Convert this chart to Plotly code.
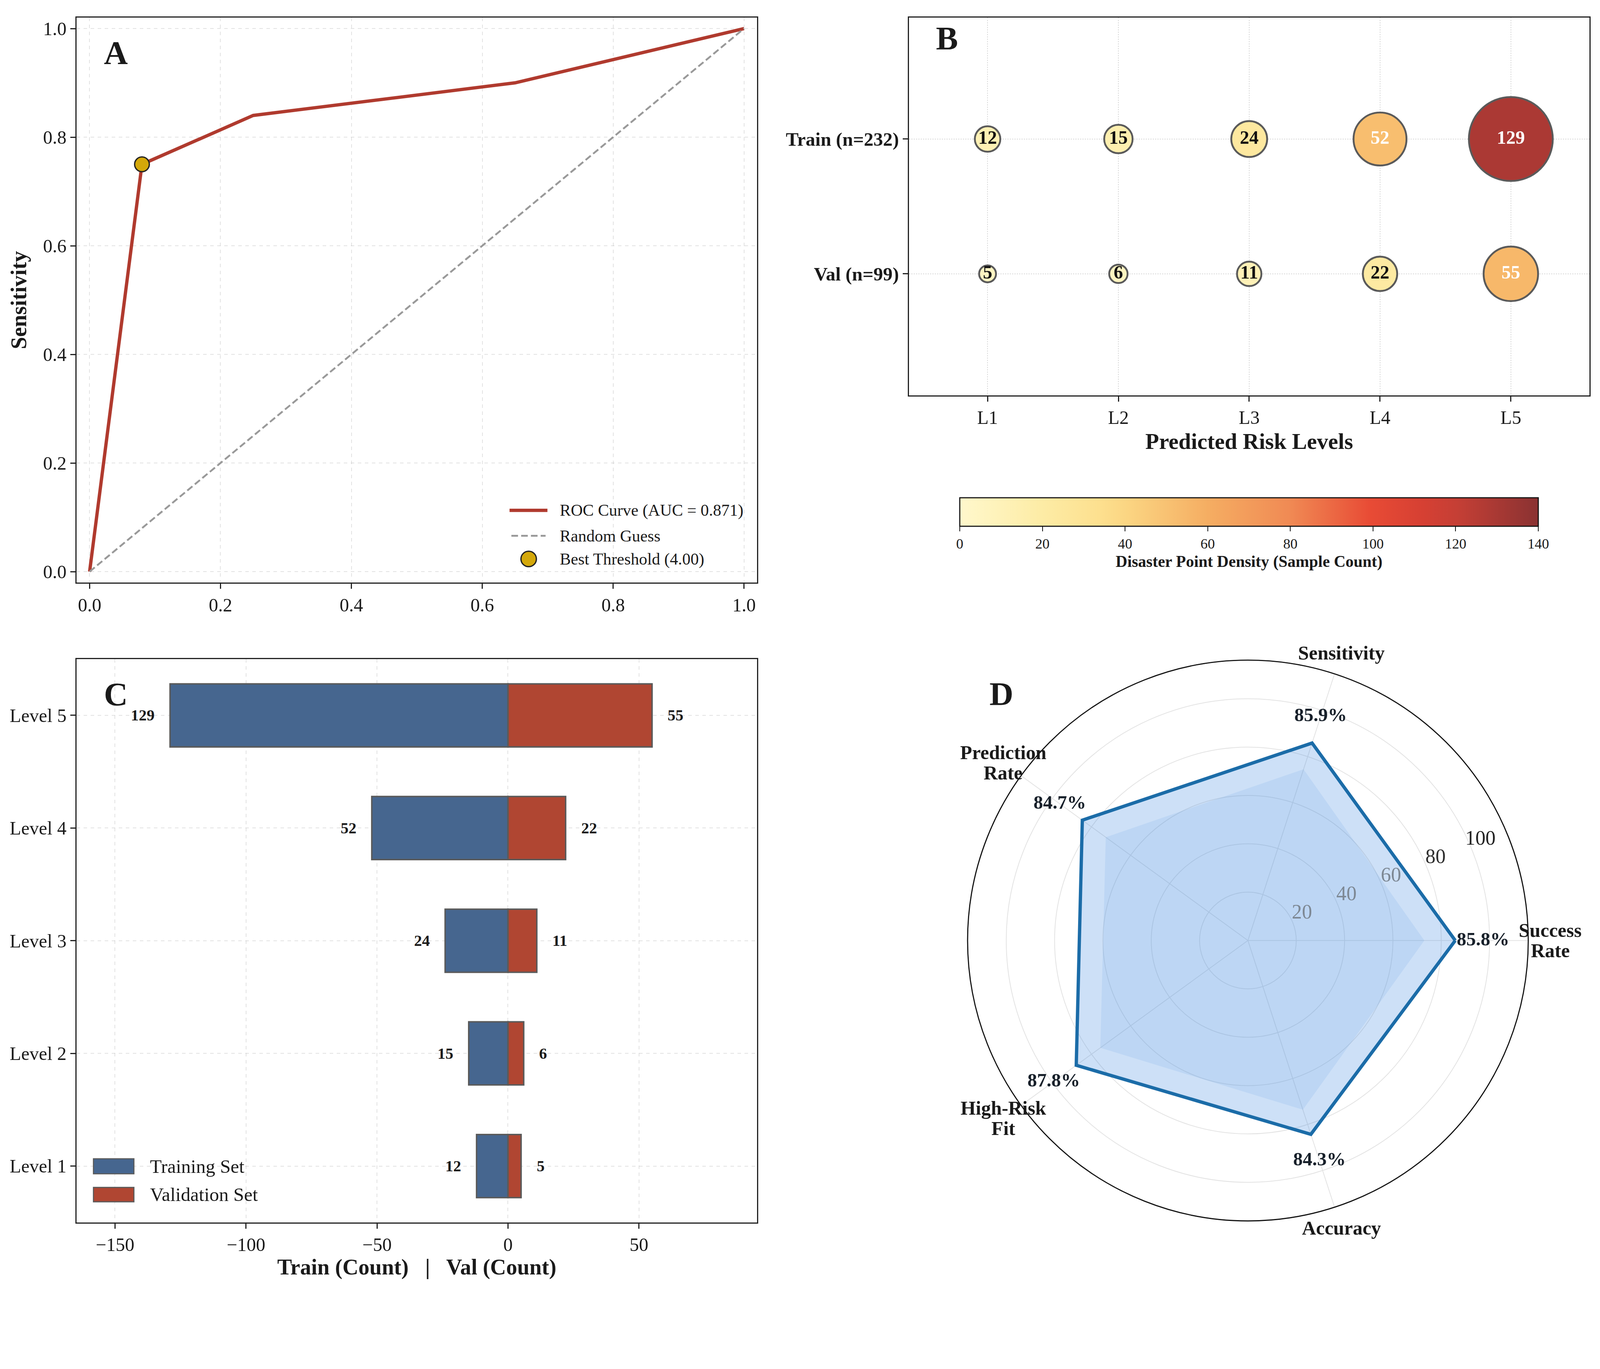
import numpy as np
import plotly.graph_objects as go

FONT = "Liberation Serif"
INK = "#1a1a1a"

# ---- panel A: ROC curve ----
roc_fpr = [0.0, 0.08, 0.25, 0.65, 1.0]
roc_tpr = [0.0, 0.75, 0.84, 0.90, 1.0]
best_fpr = [0.08]
best_tpr = [0.75]
auc_value = 0.871
best_threshold = 4.00

# ---- panel B / C: counts per predicted risk level ----
risk_levels = ["L1", "L2", "L3", "L4", "L5"]
level_names = ["Level 1", "Level 2", "Level 3", "Level 4", "Level 5"]
train_counts = [12, 15, 24, 52, 129]
val_counts = [5, 6, 11, 22, 55]
set_names = ["Val (n=99)", "Train (n=232)"]

# ---- panel D: performance radar ----
metrics = ["Success<br>Rate", "Sensitivity", "Prediction<br>Rate", "High-Risk<br>Fit", "Accuracy"]
metric_values = [85.8, 85.9, 84.7, 87.8, 84.3]
inner_values = [73.0, 74.5, 72.7, 75.5, 73.6]
radial_ticks = [20, 40, 60, 80, 100]

density_scale = [
    [0.00, "#fff8cc"], [0.14, "#fdeca6"], [0.24, "#fde08f"], [0.29, "#fbd582"],
    [0.43, "#f5ad62"], [0.57, "#f08a54"], [0.71, "#e84b35"], [0.80, "#d64033"],
    [0.86, "#c53f35"], [1.00, "#8a3232"],
]

# page geometry: the visible viewport is ~4096 css px wide, body has an 8px margin
S = 4096 / 4349
W, H = 4080, 3280


def p(v):
    return v * S


def fx(X):
    return (X * S - 8) / W


def fy(Y):
    return 1 - (Y * S - 8) / H


def font(size, bold=False, color=INK):
    return dict(family=FONT, size=p(size), color=color, weight="bold" if bold else "normal")


fig = go.Figure()

# A
fig.add_trace(go.Scatter(
    x=roc_fpr, y=roc_tpr, mode="lines", xaxis="x", yaxis="y", showlegend=False,
    line=dict(color="#b03a2e", width=p(9)),
))
fig.add_trace(go.Scatter(
    x=[0, 1], y=[0, 1], mode="lines", xaxis="x", yaxis="y", showlegend=False,
    line=dict(color="#999999", width=p(5), dash="17px,8px"),
))
fig.add_trace(go.Scatter(
    x=best_fpr, y=best_tpr, mode="markers", xaxis="x", yaxis="y", showlegend=False,
    marker=dict(size=p(40), color="#d4a80a", line=dict(color="#222222", width=p(3.5))),
))

# B
for name, counts in [("Train (n=232)", train_counts), ("Val (n=99)", val_counts)]:
    counts = np.array(counts)
    diam = p(np.sqrt(417 * counts + 516) - 5)
    fig.add_trace(go.Scatter(
        x=risk_levels, y=[name] * len(counts), mode="markers+text",
        xaxis="x2", yaxis="y2", showlegend=False,
        text=[str(c) for c in counts], textposition="middle center",
        textfont=dict(family=FONT, size=p(51), weight="bold",
                      color=["white" if c > 50 else "#111111" for c in counts]),
        marker=dict(
            size=diam, color=counts, colorscale=density_scale, cmin=0, cmax=140,
            line=dict(color="#5a5a5a", width=p(5)), opacity=1,
            showscale=(name == "Train (n=232)"),
            colorbar=dict(
                orientation="h", x=fx(3395), xanchor="center", y=fy(1353), yanchor="top",
                len=p(1572) / W, lenmode="fraction", thickness=p(77), thicknessmode="pixels",
                outlinecolor="#111111", outlinewidth=p(3),
                tickvals=list(range(0, 141, 20)), ticks="outside", ticklen=p(13),
                tickwidth=p(2.5), tickcolor="#111111", tickfont=font(39),
                title=dict(text="Disaster Point Density (Sample Count)", side="bottom",
                           font=font(44, True)),
                xpad=0, ypad=0,
            ),
        ),
    ))

# C
fig.add_trace(go.Bar(
    y=level_names, x=[-c for c in train_counts], orientation="h", width=0.56,
    xaxis="x3", yaxis="y3", showlegend=False,
    marker=dict(color="#46668f", line=dict(color="#5a5a5a", width=p(4))),
))
fig.add_trace(go.Bar(
    y=level_names, x=val_counts, orientation="h", width=0.56,
    xaxis="x3", yaxis="y3", showlegend=False,
    marker=dict(color="#b04632", line=dict(color="#5a5a5a", width=p(4))),
))

# D
fig.add_trace(go.Scatterpolar(
    r=inner_values + inner_values[:1], theta=metrics + metrics[:1],
    mode="none", fill="toself", fillcolor="rgba(74,144,226,0.12)",
    showlegend=False, hoverinfo="skip",
))
fig.add_trace(go.Scatterpolar(
    r=metric_values + metric_values[:1], theta=metrics + metrics[:1],
    mode="lines", fill="toself", fillcolor="rgba(74,144,226,0.28)",
    line=dict(color="#1b6ca8", width=p(9)), showlegend=False,
))
fig.add_trace(go.Scatterpolar(
    r=[v + 11.5 for v in metric_values], theta=metrics, mode="text",
    text=[f"{v:.1f}%" for v in metric_values],
    textfont=dict(family=FONT, size=p(52), weight="bold", color="#17202a"),
    showlegend=False, cliponaxis=False,
))

axis_common = dict(
    showline=True, mirror=True, linecolor="#222222", linewidth=p(3),
    ticks="outside", ticklen=p(14), tickwidth=p(3), tickcolor="#222222",
    tickfont=font(51), zeroline=False,
)
dash_grid = dict(showgrid=True, gridcolor="rgba(190,190,190,0.45)", gridwidth=p(2), griddash="dash")
dot_grid = dict(showgrid=True, gridcolor="rgba(190,190,190,0.6)", gridwidth=p(2.5), griddash="dot")

R_MAX = 116
fig.update_layout(
    width=W, height=H,
    margin=dict(l=0, r=0, t=0, b=0),
    paper_bgcolor="white", plot_bgcolor="white",
    font=dict(family=FONT, color=INK),
    barmode="overlay", showlegend=False,
    xaxis=dict(domain=[fx(208), fx(2058)], anchor="y", range=[-0.02, 1.02],
               tickvals=[0, 0.2, 0.4, 0.6, 0.8, 1.0], tickformat=".1f",
               **axis_common, **dash_grid),
    yaxis=dict(domain=[fy(1583), fy(48)], anchor="x", range=[-0.02, 1.02],
               tickvals=[0, 0.2, 0.4, 0.6, 0.8, 1.0], tickformat=".1f",
               title=dict(text="Sensitivity", font=font(60, True), standoff=p(26)),
               **axis_common, **dash_grid),
    xaxis2=dict(domain=[fx(2471), fx(4320)], anchor="y2", range=[-0.6, 4.6],
                title=dict(text="Predicted Risk Levels", font=font(61, True), standoff=p(16)),
                layer="above traces", **axis_common, **dot_grid),
    yaxis2=dict(domain=[fy(1074), fy(48)], anchor="x2", range=[-0.9, 1.9],
                categoryorder="array", categoryarray=set_names,
                layer="above traces", **dot_grid,
                **{**axis_common, "tickfont": font(52, True)}),
    xaxis3=dict(domain=[fx(208), fx(2058)], anchor="y3", range=[-164.7, 95.1],
                tickvals=[-150, -100, -50, 0, 50],
                title=dict(text="Train (Count)   |   Val (Count)", font=font(60, True), standoff=p(10)),
                layer="above traces", **axis_common, **dash_grid),
    yaxis3=dict(domain=[fy(3322), fy(1791)], anchor="x3", range=[-0.5, 4.5],
                categoryorder="array", categoryarray=level_names,
                layer="above traces", **axis_common, **dash_grid),
    polar=dict(
        domain=dict(x=[fx(2630), fx(4154)], y=[fy(3318), fy(1794)]),
        bgcolor="white",
        radialaxis=dict(range=[0, R_MAX], tickvals=radial_ticks, showticklabels=False,
                        showline=False, ticks="", gridcolor="#e3e3e3", gridwidth=p(2.5)),
        angularaxis=dict(rotation=0, direction="counterclockwise", ticks="",
                         showticklabels=False,
                         showline=True, linecolor="#111111", linewidth=p(3),
                         gridcolor="#e3e3e3", gridwidth=p(2.5)),
    ),
)

# radar geometry in reference pixels (centre and outer radius of the polar disc)
CX, CY, R_PX = 3392, 2556, 762
unit = R_PX / R_MAX

# radial tick labels, set along the 22.5 degree ray
ray = np.deg2rad(22.5)
tick_colors = ["#7d8894", "#7d8894", "#7d8894", "#2e2e2e", "#222222"]
for t, c in zip(radial_ticks, tick_colors):
    X = CX + t * unit * np.cos(ray) + 25
    Y = CY - t * unit * np.sin(ray) - 28
    fig.add_annotation(x=fx(X), y=fy(Y), xref="paper", yref="paper", text=str(t),
                       showarrow=False, xanchor="center", yanchor="middle", font=font(55, color=c))

# category labels just outside the outer circle (one annotation per text line)
LINE_GAP = 55
for i, label in enumerate(metrics):
    a = np.deg2rad(360 * i / len(metrics))
    X = CX + 822 * np.cos(a)
    Y = CY - 822 * np.sin(a)
    lines = label.split("<br>")
    for k, line in enumerate(lines):
        dy = (k - (len(lines) - 1) / 2) * LINE_GAP
        fig.add_annotation(x=fx(X), y=fy(Y + dy), xref="paper", yref="paper", text=line,
                           showarrow=False, xanchor="center", yanchor="middle", font=font(53, True))

# legend of panel A, drawn by hand so the samples keep their size
fig.add_shape(type="line", xref="paper", yref="paper", x0=fx(1385), x1=fx(1488),
              y0=fy(1387), y1=fy(1387), line=dict(color="#b03a2e", width=p(9)))
fig.add_shape(type="line", xref="paper", yref="paper", x0=fx(1390), x1=fx(1483),
              y0=fy(1456), y1=fy(1456), line=dict(color="#999999", width=p(5), dash="17px,8px"))
fig.add_shape(type="circle", xref="paper", yref="paper", xsizemode="pixel", ysizemode="pixel",
              xanchor=fx(1437), yanchor=fy(1519), x0=-p(21), x1=p(21), y0=-p(21), y1=p(21),
              fillcolor="#d4a80a", line=dict(color="#222222", width=p(3.5)))
legend_a = [f"ROC Curve (AUC = {auc_value:.3f})", "Random Guess", f"Best Threshold ({best_threshold:.2f})"]
for label, row in zip(legend_a, [1387, 1456, 1519]):
    fig.add_annotation(x=fx(1519), y=fy(row), xref="paper", yref="paper", text=label,
                       showarrow=False, xanchor="left", yanchor="middle", font=font(45))

# legend of panel C
for label, color, (top, bot) in [("Training Set", "#46668f", (3149, 3190)),
                                 ("Validation Set", "#b04632", (3227, 3266))]:
    fig.add_shape(type="rect", xref="paper", yref="paper", x0=fx(254), x1=fx(364),
                  y0=fy(bot), y1=fy(top), fillcolor=color, line=dict(color="#5a5a5a", width=p(3)))
    fig.add_annotation(x=fx(406), y=fy((top + bot) / 2), xref="paper", yref="paper", text=label,
                       showarrow=False, xanchor="left", yanchor="middle", font=font(52))

# value labels on the diverging bars
for name, t, v in zip(level_names, train_counts, val_counts):
    fig.add_annotation(x=-t, y=name, xref="x3", yref="y3", text=str(t), showarrow=False,
                       xanchor="right", xshift=-p(40), font=font(43, True))
    fig.add_annotation(x=v, y=name, xref="x3", yref="y3", text=str(v), showarrow=False,
                       xanchor="left", xshift=p(40), font=font(43, True))

# panel letters
for letter, X, Y in [("A", 315, 143), ("B", 2574, 104), ("C", 315, 1887), ("D", 2722, 1886)]:
    fig.add_annotation(x=fx(X), y=fy(Y), xref="paper", yref="paper", text=letter, showarrow=False,
                       xanchor="center", yanchor="middle", font=font(90, True))

fig.write_html("out.html")
